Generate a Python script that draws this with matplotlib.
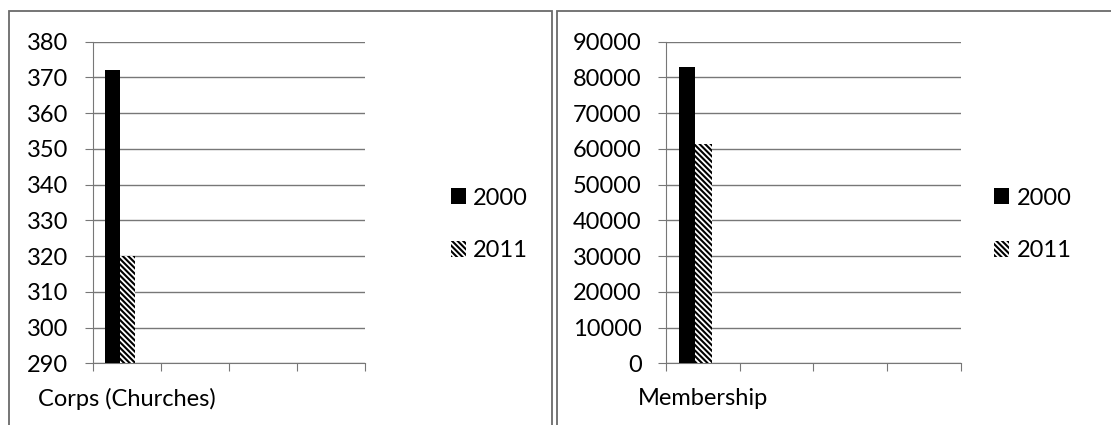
import numpy as np
import matplotlib
matplotlib.use('Agg')
from matplotlib import pyplot as plt
from matplotlib.patches import Rectangle, Patch

plt.rcParams['font.family'] = ['Lato', 'DejaVu Sans']
plt.rcParams['hatch.linewidth'] = 1.5

# data
years = ['2000', '2011']
corps_cats = ['Corps (Churches)', '', '', '']
corps_2000 = [372, np.nan, np.nan, np.nan]
corps_2011 = [320, np.nan, np.nan, np.nan]
member_cats = ['Membership', '', '', '']
member_2000 = [83000, np.nan, np.nan, np.nan]
member_2011 = [61300, np.nan, np.nan, np.nan]

W, H = 1111, 425
fig = plt.figure(figsize=(W / 100, H / 100), dpi=100)
grid_c = '#777777'
fs = 17
hatch = '\\' * 6


def panel(rect, cats, v1, v2, ylim, ystep, leg_x):
    ax = fig.add_axes(rect)
    x = np.arange(len(cats))
    w = 0.225
    ax.bar(x + 0.2875, v1, w, color='black', linewidth=0, zorder=3)
    ax.bar(x + 0.5125, v2, w, color='white', edgecolor='black', hatch=hatch,
           linewidth=0, zorder=3)
    ax.set_xlim(0, len(cats))
    ax.set_ylim(*ylim)
    ax.set_yticks(np.arange(ylim[0], ylim[1] + 1, ystep))
    ax.yaxis.grid(True, color=grid_c, lw=1)
    ax.set_axisbelow(True)
    ax.set_xticks(np.arange(len(cats) + 1))
    ax.set_xticklabels([])
    ax.set_xticks(x + 0.5, minor=True)
    ax.set_xticklabels(cats, minor=True, fontsize=fs)
    ax.tick_params(axis='x', which='major', direction='out', length=6,
                   color=grid_c)
    ax.tick_params(axis='x', which='minor', length=0, pad=18)
    ax.tick_params(axis='y', direction='out', length=5.5, color=grid_c,
                   pad=12, labelsize=fs)
    for s in ['top', 'right']:
        ax.spines[s].set_visible(False)
    for s in ['left', 'bottom']:
        ax.spines[s].set_color(grid_c)
    handles = [Patch(facecolor='black', linewidth=0),
               Patch(facecolor='white', edgecolor='black', hatch=hatch,
                     linewidth=0)]
    fig.legend(handles, years, loc='center left',
               bbox_to_anchor=(leg_x / W, 1 - 224.5 / H), frameon=False,
               fontsize=fs, handlelength=0.65, handleheight=0.65,
               handletextpad=0.3, labelspacing=1.35, borderpad=0,
               borderaxespad=0)
    return ax


panel([92.7 / W, 1 - 363.3 / H, 272.3 / W, 321.6 / H],
      corps_cats, corps_2000, corps_2011, (290, 380), 10, 450.7)
panel([666 / W, 1 - 363.3 / H, 294.7 / W, 321.6 / H],
      member_cats, member_2000, member_2011, (0, 90000), 10000, 994)

# frames round the two charts
for x0, x1 in [(9, 552), (557, 1120)]:
    fig.add_artist(Rectangle((x0 / W, -0.05), (x1 - x0) / W, 1.05 - 11 / H,
                             transform=fig.transFigure, fill=False,
                             edgecolor='#6a6a6a', lw=1.3))

fig.savefig('out.png', dpi=100)
